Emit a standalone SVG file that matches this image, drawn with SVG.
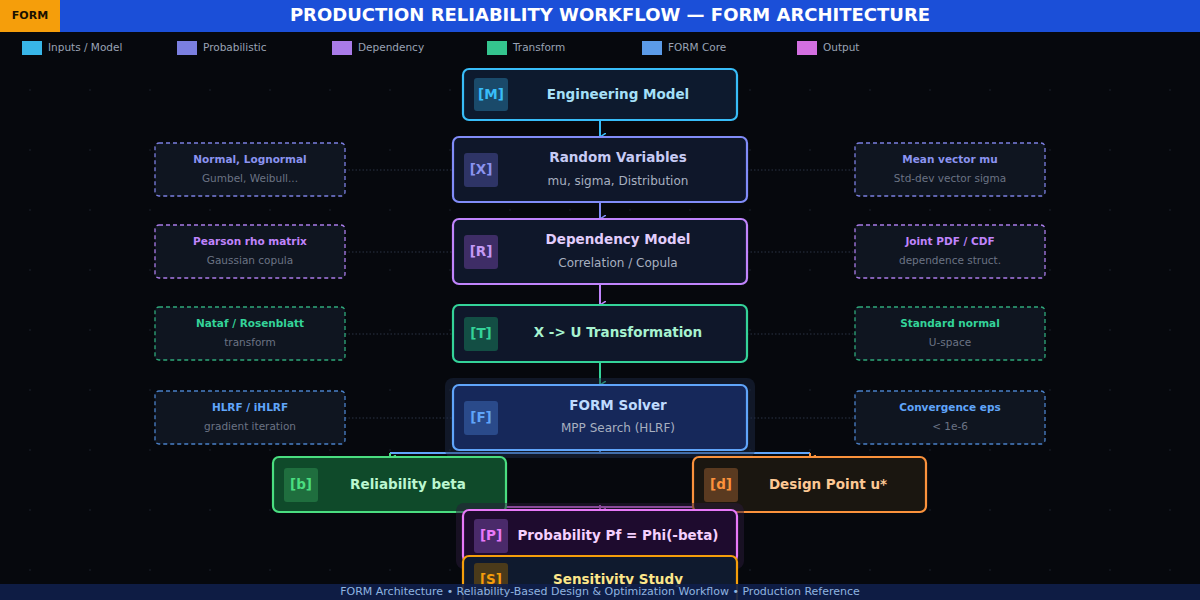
<svg xmlns="http://www.w3.org/2000/svg" width="1200" height="600" viewBox="0 0 1200 600">
<defs>
<pattern id="dots" width="60" height="60" patternUnits="userSpaceOnUse"><circle cx="30" cy="30" r="0.8" fill="#1c2330"/></pattern>
<marker id="ac" markerWidth="8" markerHeight="8" refX="4" refY="6" orient="auto" markerUnits="userSpaceOnUse" viewBox="0 0 8 8"><path d="M0,0 L4,6 L8,0" fill="none" stroke="context-stroke" stroke-width="1.5"/></marker>
<style>
text{font-family:"DejaVu Sans","Noto Sans",sans-serif;}
.nb{stroke-width:2.2}
.t{font-size:13.5px;font-weight:bold;text-anchor:middle;dominant-baseline:middle}
.s{font-size:12px;fill:#a8b0c0;text-anchor:middle;dominant-baseline:middle}
.bd{font-size:13.5px;font-weight:bold;text-anchor:middle;dominant-baseline:middle}
.sb{fill:#0f1520;stroke-width:1.3;stroke-dasharray:4 3}
.st{font-size:10.5px;font-weight:bold;text-anchor:middle;dominant-baseline:middle}
.ss{font-size:10.5px;fill:#6b7384;text-anchor:middle;dominant-baseline:middle}
.lg{font-size:10.5px;fill:#9aa3b5;dominant-baseline:middle}
.dot{stroke:#2a3344;stroke-width:1;stroke-dasharray:1.5 2;fill:none}
.ar{stroke-width:2;fill:none}
</style>
</defs>
<rect width="1200" height="600" fill="#06080d"/>
<rect width="1200" height="600" fill="url(#dots)"/>
<g id="header">
<rect x="0" y="0" width="1200" height="32" fill="#1b4fd8"/>
<rect x="0" y="0" width="60" height="32" fill="#f59e0b"/>
<text x="30" y="16" font-size="11" font-weight="bold" fill="#1a1000" text-anchor="middle" dominant-baseline="middle">FORM</text>
<text x="610" y="16" font-size="18" font-weight="bold" fill="#ffffff" text-anchor="middle" dominant-baseline="middle">PRODUCTION RELIABILITY WORKFLOW  —  FORM ARCHITECTURE</text>
</g>
<g id="legend">
<rect x="22" y="41" width="20" height="14" fill="#38b6e8"/><text class="lg" x="48" y="48">Inputs / Model</text>
<rect x="177" y="41" width="20" height="14" fill="#7b7fe0"/><text class="lg" x="203" y="48">Probabilistic</text>
<rect x="332" y="41" width="20" height="14" fill="#a97be8"/><text class="lg" x="358" y="48">Dependency</text>
<rect x="487" y="41" width="20" height="14" fill="#34c48e"/><text class="lg" x="513" y="48">Transform</text>
<rect x="642" y="41" width="20" height="14" fill="#5b9be8"/><text class="lg" x="668" y="48">FORM Core</text>
<rect x="797" y="41" width="20" height="14" fill="#d36fe0"/><text class="lg" x="823" y="48">Output</text>
</g>
<g id="connectors">
<line class="dot" x1="345" y1="170" x2="453" y2="170"/><line class="dot" x1="747" y1="170" x2="855" y2="170"/>
<line class="dot" x1="345" y1="252" x2="453" y2="252"/><line class="dot" x1="747" y1="252" x2="855" y2="252"/>
<line class="dot" x1="345" y1="334" x2="453" y2="334"/><line class="dot" x1="747" y1="334" x2="855" y2="334"/>
<line class="dot" x1="345" y1="418" x2="453" y2="418"/><line class="dot" x1="747" y1="418" x2="855" y2="418"/>
<line class="ar" stroke="#38bdf8" x1="600" y1="116" x2="600" y2="137" marker-end="url(#ac)"/>
<line class="ar" stroke="#818cf8" x1="600" y1="198" x2="600" y2="219" marker-end="url(#ac)"/>
<line class="ar" stroke="#c084fc" x1="600" y1="280" x2="600" y2="305" marker-end="url(#ac)"/>
<line class="ar" stroke="#34d399" x1="600" y1="358" x2="600" y2="385" marker-end="url(#ac)"/>
<path class="ar" stroke="#60a5fa" d="M600,443 V453 M390,453 H810"/>
<line class="ar" stroke="#4ade80" x1="390" y1="453" x2="390" y2="459" marker-end="url(#ac)"/>
<line class="ar" stroke="#fb923c" x1="810" y1="453" x2="810" y2="459" marker-end="url(#ac)"/>
<path class="ar" stroke="#e879f9" d="M390,507 H810"/>
<line class="ar" stroke="#e879f9" x1="600" y1="505" x2="600" y2="512" marker-end="url(#ac)"/>
<line class="ar" stroke="#f59e0b" x1="600" y1="549" x2="600" y2="558" marker-end="url(#ac)"/>
</g>
<g id="M">
<rect x="463" y="69" width="274" height="51" rx="6" fill="#0d1a2e" stroke="#38bdf8" class="nb"/>
<rect x="474" y="78" width="34" height="33" rx="3" fill="#1a4a6a"/>
<text class="bd" x="491" y="95" fill="#38bdf8">[M]</text>
<text class="t" x="618" y="95" fill="#a5e0f8">Engineering Model</text>
</g>
<g id="X">
<rect x="453" y="137" width="294" height="65" rx="6" fill="#0f172a" stroke="#818cf8" class="nb"/>
<rect x="464" y="153" width="34" height="34" rx="3" fill="#2e3466"/>
<text class="bd" x="481" y="170" fill="#8b93f0">[X]</text>
<text class="t" x="618" y="158" fill="#c7cbf5">Random Variables</text>
<text class="s" x="618" y="181">mu, sigma, Distribution</text>
</g>
<g id="R">
<rect x="453" y="219" width="294" height="65" rx="6" fill="#0f172a" stroke="#c084fc" class="nb"/>
<rect x="464" y="235" width="34" height="34" rx="3" fill="#3e2d66"/>
<text class="bd" x="481" y="252" fill="#c49af5">[R]</text>
<text class="t" x="618" y="240" fill="#e2cdfb">Dependency Model</text>
<text class="s" x="618" y="263">Correlation / Copula</text>
</g>
<g id="T">
<rect x="453" y="305" width="294" height="57" rx="6" fill="#0f172a" stroke="#34d399" class="nb"/>
<rect x="464" y="317" width="34" height="34" rx="3" fill="#134e44"/>
<text class="bd" x="481" y="334" fill="#34d399">[T]</text>
<text class="t" x="618" y="333" fill="#a7f3d0">X  -&gt;  U  Transformation</text>
</g>
<g id="F">
<rect x="445" y="378" width="310" height="80" rx="8" fill="#1e2d4a" opacity="0.45"/>
<rect x="453" y="385" width="294" height="65" rx="6" fill="#16285a" stroke="#60a5fa" class="nb"/>
<rect x="464" y="401" width="34" height="34" rx="3" fill="#2a4a8a"/>
<text class="bd" x="481" y="418" fill="#60a5fa">[F]</text>
<text class="t" x="618" y="406" fill="#bfdbfe">FORM Solver</text>
<text class="s" x="618" y="428">MPP Search (HLRF)</text>
</g>
<g id="b">
<rect x="273" y="457" width="233" height="55" rx="6" fill="#0f4a2a" stroke="#4ade80" class="nb"/>
<rect x="284" y="468" width="34" height="34" rx="3" fill="#1f6e3e"/>
<text class="bd" x="301" y="485" fill="#4ade80">[b]</text>
<text class="t" x="408" y="485" fill="#bbf7d0">Reliability  beta</text>
</g>
<g id="d">
<rect x="693" y="457" width="233" height="55" rx="6" fill="#1a1610" stroke="#fb923c" class="nb"/>
<rect x="704" y="468" width="34" height="34" rx="3" fill="#5a3a20"/>
<text class="bd" x="721" y="485" fill="#fb923c">[d]</text>
<text class="t" x="828" y="485" fill="#fdc894">Design Point  u*</text>
</g>
<g id="P">
<rect x="456" y="503" width="288" height="66" rx="8" fill="#2a1a3a" opacity="0.5"/>
<rect x="463" y="510" width="274" height="52" rx="6" fill="#1e0b2e" stroke="#e879f9" class="nb"/>
<rect x="474" y="519" width="34" height="34" rx="3" fill="#4a2a6a"/>
<text class="bd" x="491" y="536" fill="#e879f9">[P]</text>
<text class="t" x="618" y="536" fill="#f5d0fe">Probability  Pf = Phi(-beta)</text>
</g>
<g id="S">
<rect x="463" y="556" width="274" height="50" rx="6" fill="#0f1a2e" stroke="#f59e0b" class="nb"/>
<rect x="474" y="563" width="34" height="34" rx="3" fill="#4a3a1a"/>
<text class="bd" x="491" y="580" fill="#f59e0b">[S]</text>
<text class="t" x="618" y="580" fill="#fde68a">Sensitivity Study</text>
</g>
<g id="side-left">
<rect class="sb" x="155" y="143" width="190" height="53" rx="4" stroke="#7b7fe0"/>
<text class="st" x="250" y="160" fill="#8b93f0">Normal, Lognormal</text><text class="ss" x="250" y="179">Gumbel, Weibull...</text>
<rect class="sb" x="155" y="225" width="190" height="53" rx="4" stroke="#a97be8"/>
<text class="st" x="250" y="242" fill="#c084fc">Pearson rho matrix</text><text class="ss" x="250" y="261">Gaussian copula</text>
<rect class="sb" x="155" y="307" width="190" height="53" rx="4" stroke="#2fa87a"/>
<text class="st" x="250" y="324" fill="#34d399">Nataf / Rosenblatt</text><text class="ss" x="250" y="343">transform</text>
<rect class="sb" x="155" y="391" width="190" height="53" rx="4" stroke="#4a80c8"/>
<text class="st" x="250" y="408" fill="#60a5fa">HLRF / iHLRF</text><text class="ss" x="250" y="427">gradient iteration</text>
</g>
<g id="side-right">
<rect class="sb" x="855" y="143" width="190" height="53" rx="4" stroke="#7b7fe0"/>
<text class="st" x="950" y="160" fill="#8b93f0">Mean vector mu</text><text class="ss" x="950" y="179">Std-dev vector sigma</text>
<rect class="sb" x="855" y="225" width="190" height="53" rx="4" stroke="#a97be8"/>
<text class="st" x="950" y="242" fill="#c084fc">Joint PDF / CDF</text><text class="ss" x="950" y="261">dependence struct.</text>
<rect class="sb" x="855" y="307" width="190" height="53" rx="4" stroke="#2fa87a"/>
<text class="st" x="950" y="324" fill="#34d399">Standard normal</text><text class="ss" x="950" y="343">U-space</text>
<rect class="sb" x="855" y="391" width="190" height="53" rx="4" stroke="#4a80c8"/>
<text class="st" x="950" y="408" fill="#60a5fa">Convergence eps</text><text class="ss" x="950" y="427">&lt; 1e-6</text>
</g>
<g id="footer">
<rect x="0" y="584" width="1200" height="16" fill="#0f1f4a" opacity="0.9"/>
<text x="600" y="592" font-size="11" fill="#8fb4e0" text-anchor="middle" dominant-baseline="middle">FORM Architecture  •  Reliability-Based Design &amp; Optimization Workflow  •  Production Reference</text>
</g>
</svg>
